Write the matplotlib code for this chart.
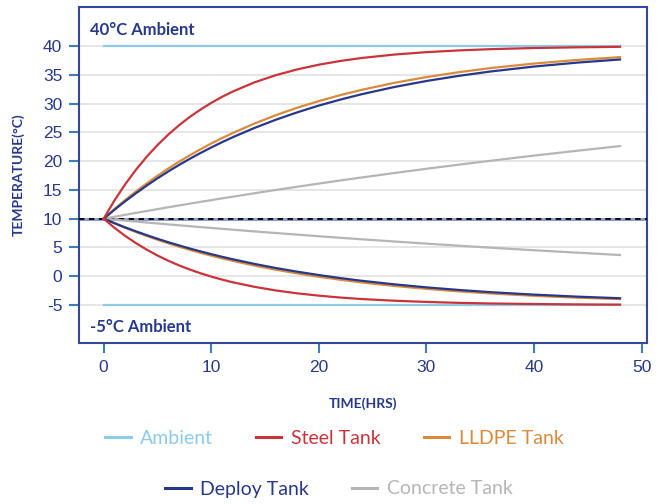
import numpy as np
import matplotlib
matplotlib.use("Agg")
import matplotlib.pyplot as plt
from matplotlib.lines import Line2D

plt.rcParams['font.family'] = ['Lato', 'DejaVu Sans']
plt.rcParams['axes.unicode_minus'] = False

# values
hours = [0, 1, 2, 3, 4, 5, 6, 7, 8, 9, 10, 11, 12, 14, 16, 18, 20, 22, 24, 27, 30, 33, 36, 40, 44, 48]

steel_hot = [10, 13.16, 15.98, 18.50, 20.76, 22.79, 24.60, 26.22, 27.67, 28.96, 30.12, 31.16, 32.09,
             33.67, 34.93, 35.94, 36.75, 37.40, 37.92, 38.51, 38.93, 39.23, 39.45, 39.65, 39.77, 39.86]
lldpe_hot = [10, 11.67, 13.24, 14.73, 16.13, 17.45, 18.71, 19.89, 21.01, 22.06, 23.06, 24.00, 24.89,
             26.52, 27.98, 29.28, 30.43, 31.47, 32.39, 33.59, 34.60, 35.45, 36.17, 36.95, 37.57, 38.07]
deploy_hot = [10, 11.55, 13.03, 14.42, 15.75, 17.01, 18.20, 19.33, 20.40, 21.41, 22.37, 23.29, 24.15,
              25.75, 27.19, 28.48, 29.65, 30.69, 31.63, 32.87, 33.92, 34.81, 35.58, 36.43, 37.11, 37.66]
concrete_hot = [10, 10.34, 10.67, 11.01, 11.33, 11.66, 11.98, 12.30, 12.61, 12.92, 13.22, 13.53, 13.82,
                14.41, 14.99, 15.55, 16.10, 16.64, 17.16, 17.93, 18.67, 19.38, 20.07, 20.96, 21.80, 22.61]

steel_cold = [10, 8.42, 7.01, 5.75, 4.62, 3.61, 2.70, 1.89, 1.17, 0.52, -0.06, -0.58, -1.05,
              -1.83, -2.47, -2.97, -3.37, -3.70, -3.96, -4.25, -4.46, -4.62, -4.73, -4.82, -4.89, -4.93]
lldpe_cold = [10, 9.19, 8.41, 7.69, 7.00, 6.34, 5.73, 5.14, 4.59, 4.07, 3.58, 3.11, 2.67,
              1.86, 1.14, 0.49, -0.09, -0.61, -1.08, -1.68, -2.19, -2.63, -2.99, -3.40, -3.72, -3.97]
deploy_cold = [10, 9.23, 8.49, 7.80, 7.14, 6.51, 5.92, 5.36, 4.82, 4.32, 3.84, 3.38, 2.95,
               2.15, 1.43, 0.79, 0.21, -0.32, -0.79, -1.40, -1.93, -2.38, -2.77, -3.19, -3.54, -3.82]
concrete_cold = [10, 9.83, 9.66, 9.50, 9.33, 9.17, 9.01, 8.85, 8.70, 8.54, 8.39, 8.24, 8.09,
                 7.79, 7.51, 7.23, 6.95, 6.68, 6.42, 6.04, 5.67, 5.31, 4.96, 4.52, 4.10, 3.69]

ambient_hot = 40
ambient_cold = -5
start_temp = 10

y_ticks = [-5, 0, 5, 10, 15, 20, 25, 30, 35, 40]
x_ticks = [0, 10, 20, 30, 40, 50]

c_ambient = '#8ccbe8'
c_steel = '#c9343b'
c_lldpe = '#d98a3c'
c_deploy = '#27388a'
c_concrete = '#b5b5b5'
navy = '#26398a'

fig = plt.figure(figsize=(6.69, 5.04), dpi=100)
ax = fig.add_axes([0.118, 0.3194, 0.849, 0.667])

for y in y_ticks:
    ax.axhline(y, color='#e2e2e2', linewidth=1.2, zorder=1)

ax.axhline(start_temp, color='#8d9cc9', linewidth=2.2, zorder=2)
ax.axhline(start_temp, color='black', linewidth=1.3, linestyle=(0, (3, 2.5)), zorder=3)

ax.plot([hours[0], hours[-1]], [ambient_hot, ambient_hot], color=c_ambient, linewidth=1.6, zorder=4)
ax.plot([hours[0], hours[-1]], [ambient_cold, ambient_cold], color=c_ambient, linewidth=1.6, zorder=4)

ax.plot(hours, concrete_hot, color=c_concrete, linewidth=1.6, zorder=5)
ax.plot(hours, concrete_cold, color=c_concrete, linewidth=1.6, zorder=5)
ax.plot(hours, lldpe_hot, color=c_lldpe, linewidth=1.6, zorder=6)
ax.plot(hours, lldpe_cold, color=c_lldpe, linewidth=1.6, zorder=6)
ax.plot(hours, deploy_hot, color=c_deploy, linewidth=1.6, zorder=7)
ax.plot(hours, deploy_cold, color=c_deploy, linewidth=1.6, zorder=7)
ax.plot(hours, steel_hot, color=c_steel, linewidth=1.6, zorder=8)
ax.plot(hours, steel_cold, color=c_steel, linewidth=1.6, zorder=8)

ax.set_xlim(-2.3, 50.5)
ax.set_ylim(-11.6, 46.8)
ax.set_xticks(x_ticks)
ax.set_yticks(y_ticks)
ax.set_xticklabels([str(v) for v in x_ticks], fontfamily='Liberation Sans', fontsize=12.5, color=navy)
ax.set_yticklabels([str(v) for v in y_ticks], fontfamily='Liberation Sans', fontsize=12.5, color=navy)
ax.tick_params(axis='both', direction='out', length=7, width=1.5, color='#3d7cbd', pad=5)

for s in ax.spines.values():
    s.set_color('#34489a')
    s.set_linewidth(1.5)

ax.text(0.02, 0.955, '40°C Ambient', transform=ax.transAxes, fontsize=12, fontweight='bold',
        color=navy, ha='left', va='top')
ax.text(0.02, 0.025, '-5°C Ambient', transform=ax.transAxes, fontsize=12, fontweight='bold',
        color=navy, ha='left', va='bottom')

ax.set_xlabel('TIME(HRS)', fontsize=10, fontweight='bold', color=navy, labelpad=16)
ax.set_ylabel('TEMPERATURE(°C)', fontsize=10, fontweight='bold', color=navy, labelpad=13)

row1 = [Line2D([], [], color=c_ambient, linewidth=2.2),
        Line2D([], [], color=c_steel, linewidth=2.2),
        Line2D([], [], color=c_lldpe, linewidth=2.2)]
row2 = [Line2D([], [], color=c_deploy, linewidth=2.2),
        Line2D([], [], color=c_concrete, linewidth=2.2)]

leg1 = fig.legend(row1, ['Ambient', 'Steel Tank', 'LLDPE Tank'], loc='center', bbox_to_anchor=(0.5, 1 - 438 / 504),
                  ncol=3, frameon=False, fontsize=14, handlelength=1.3, handletextpad=0.5, columnspacing=2.2)
for t, c in zip(leg1.get_texts(), [c_ambient, c_steel, c_lldpe]):
    t.set_color(c)
leg2 = fig.legend(row2, ['Deploy Tank', 'Concrete Tank'], loc='center', bbox_to_anchor=(0.507, 1 - 489 / 504),
                  ncol=2, frameon=False, fontsize=14, handlelength=1.3, handletextpad=0.5, columnspacing=2.2)
for t, c in zip(leg2.get_texts(), [c_deploy, c_concrete]):
    t.set_color(c)

fig.savefig('out.png', dpi=100)
